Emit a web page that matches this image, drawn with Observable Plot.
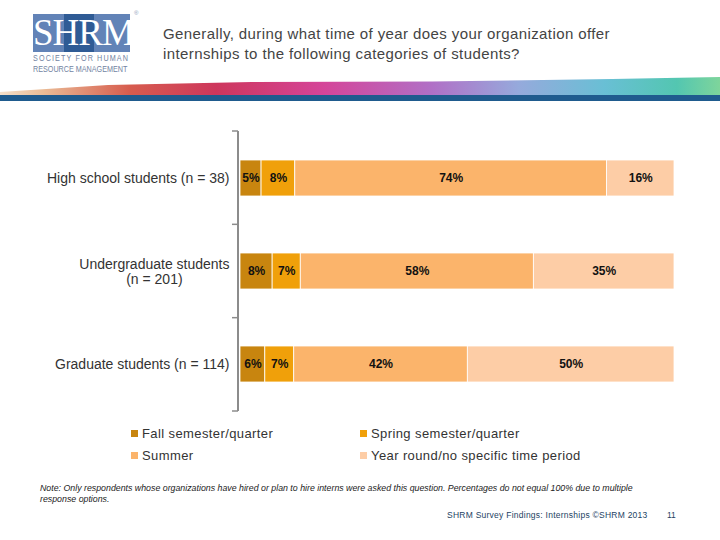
<!DOCTYPE html>
<html>
<head>
<meta charset="utf-8">
<script src="https://cdn.jsdelivr.net/npm/d3@7"></script>
<script src="https://cdn.jsdelivr.net/npm/@observablehq/plot@0.6"></script>
<style>
  html, body { margin: 0; padding: 0; background: #fff; }
  #page { position: relative; width: 720px; height: 540px; overflow: hidden; font-family: "Liberation Sans", Arial, sans-serif; color: #333; }
  #logo { position: absolute; left: 33px; top: 14px; width: 97px; height: 38px; background: #6283b7; }
  #logo .inner { position: absolute; left: 31px; top: 0; width: 30px; height: 38px; background: #2f5b95; }
  #logo .txt { position: absolute; left: 0; top: 0; width: 97px; text-align: center; font-family: "Liberation Serif", "DejaVu Serif", serif; color: #fff; font-size: 37px; line-height: 38px; letter-spacing: -1px; }
  #logo-r { position: absolute; left: 134px; top: 10px; font-size: 6px; color: #8a9bb8; }
  #logo-sub { position: absolute; left: 33px; top: 53px; width: 140px; font-size: 9px; line-height: 10.5px; color: #7283a2; transform-origin: 0 0; transform: scaleX(0.8); white-space: nowrap; }
  #logo-sub .l1 { letter-spacing: 1.4px; }
  #title { position: absolute; left: 163px; top: 24px; font-size: 15px; letter-spacing: 0.4px; line-height: 19.5px; color: #444; }
  #swoosh { position: absolute; left: 0; top: 76px; width: 720px; height: 20px;
    background: linear-gradient(90deg, #f4dcc4 0%, #e8b48a 6%, #d24a3a 18%, #c8204a 30%, #d0308e 45%, #a860c0 60%, #8aa0d8 72%, #58b8d0 84%, #40c0a8 94%, #70d090 100%);
    clip-path: polygon(0% 100%, 0% 80%, 15% 45%, 35% 30%, 60% 28%, 85% 15%, 100% 5%, 100% 100%); opacity: 0.9; }
  #bluebar { position: absolute; left: 0; top: 95px; width: 720px; height: 6px; background: #1f5b8e; }
  #chart { position: absolute; left: 0; top: 121px; }
  #legend { position: absolute; left: 0; top: 426px; width: 720px; font-size: 13px; letter-spacing: 0.4px; color: #333; }
  .li { position: absolute; white-space: nowrap; }
  .li .sw { display: inline-block; width: 7px; height: 7px; margin-right: 4px; vertical-align: 1px; }
  #note { position: absolute; left: 40px; top: 483px; width: 612px; font-size: 8.8px; line-height: 11px; font-style: italic; color: #222; }
  #footer { position: absolute; left: 447px; top: 510px; font-size: 8.5px; letter-spacing: 0.25px; color: #1d3f63; }
  #pagenum { position: absolute; left: 667px; top: 510px; font-size: 8.5px; color: #1d3f63; }
</style>
</head>
<body>
<div id="page">
  <div id="logo"><div class="inner"></div><div class="txt">SHRM</div></div>
  <div id="logo-r">®</div>
  <div id="logo-sub"><span class="l1">SOCIETY FOR HUMAN</span><br>RESOURCE MANAGEMENT</div>
  <div id="title">Generally, during what time of year does your organization offer<br>internships to the following categories of students?</div>
  <div id="swoosh"></div>
  <div id="bluebar"></div>
  <div id="chart"></div>
  <div id="legend"></div>
  <div id="note">Note: Only respondents whose organizations have hired or plan to hire interns were asked this question. Percentages do not equal 100% due to multiple response options.</div>
  <div id="footer">SHRM Survey Findings: Internships ©SHRM 2013</div>
  <div id="pagenum">11</div>
</div>
<script>
const categories = ["High school students (n = 38)", "Undergraduate students\n(n = 201)", "Graduate students (n = 114)"];
const seriesNames = ["Fall semester/quarter", "Spring semester/quarter", "Summer", "Year round/no specific time period"];
const seriesColors = ["#c8850f", "#f0a00a", "#fbb46b", "#fdcda6"];
const fallValues = [5, 8, 6];
const springValues = [8, 7, 7];
const summerValues = [74, 58, 42];
const yearRoundValues = [16, 35, 50];

const allSeries = [fallValues, springValues, summerValues, yearRoundValues];
const data = [];
categories.forEach((c, i) => {
  seriesNames.forEach((s, j) => {
    data.push({category: c, series: s, value: allSeries[j][i]});
  });
});

const W = 720, H = 300, mL = 240, mR = 46, mT = 10, mB = 10;

const bracket = (index, scales, values, dims) => {
  const g = d3.create("svg:g");
  const x0 = dims.marginLeft - 2;
  const top = dims.marginTop, bot = dims.height - dims.marginBottom;
  g.append("line").attr("x1", x0).attr("x2", x0).attr("y1", top).attr("y2", bot)
    .attr("stroke", "#8c8c8c").attr("stroke-width", 2);
  const n = categories.length;
  for (let k = 0; k <= n; k++) {
    const y = top + k * (bot - top) / n;
    g.append("line").attr("x1", x0 - 6).attr("x2", x0).attr("y1", y).attr("y2", y)
      .attr("stroke", "#8c8c8c").attr("stroke-width", 1.5);
  }
  return g.node();
};

const stackOpts = {x: "value", y: "category", z: "series", offset: "normalize", order: seriesNames};

const plot = Plot.plot({
  width: W, height: H,
  marginLeft: mL, marginRight: mR, marginTop: mT, marginBottom: mB,
  style: {fontFamily: "'Liberation Sans', Arial, sans-serif", background: "transparent"},
  x: {axis: null},
  y: {domain: categories, paddingInner: 0.614, paddingOuter: 0.307, axis: null, label: null},
  color: {domain: seriesNames, range: seriesColors},
  marks: [
    Plot.barX(data, Plot.stackX({...stackOpts, fill: "series", stroke: "white", strokeWidth: 0.8})),
    Plot.text(data, Plot.stackX({...stackOpts, text: d => d.value + "%", fill: "#111", fontWeight: "bold", fontSize: 12})),
    Plot.axisY({domain: categories, label: null, tickSize: 0, tickPadding: 11, fontSize: 14, fill: "#333", lineHeight: 1.1, textAnchor: "end"}),
    bracket
  ]
});
document.getElementById("chart").appendChild(plot);

// center the multi-line category label like the original
plot.querySelectorAll("text").forEach(t => {
  const spans = t.querySelectorAll("tspan");
  if (spans.length > 1) {
    let w = 0;
    spans.forEach(s => { w = Math.max(w, s.getComputedTextLength()); });
    t.setAttribute("text-anchor", "middle");
    spans.forEach(s => s.setAttribute("x", -w / 2));
  }
});

// legend
const legend = document.getElementById("legend");
const legendPos = [[131, 0], [360, 0], [131, 22], [360, 22]];
seriesNames.forEach((s, i) => {
  const d = document.createElement("div");
  d.className = "li";
  d.style.left = legendPos[i][0] + "px";
  d.style.top = legendPos[i][1] + "px";
  d.innerHTML = `<span class="sw" style="background:${seriesColors[i]}"></span>${s}`;
  legend.appendChild(d);
});
</script>
</body>
</html>
